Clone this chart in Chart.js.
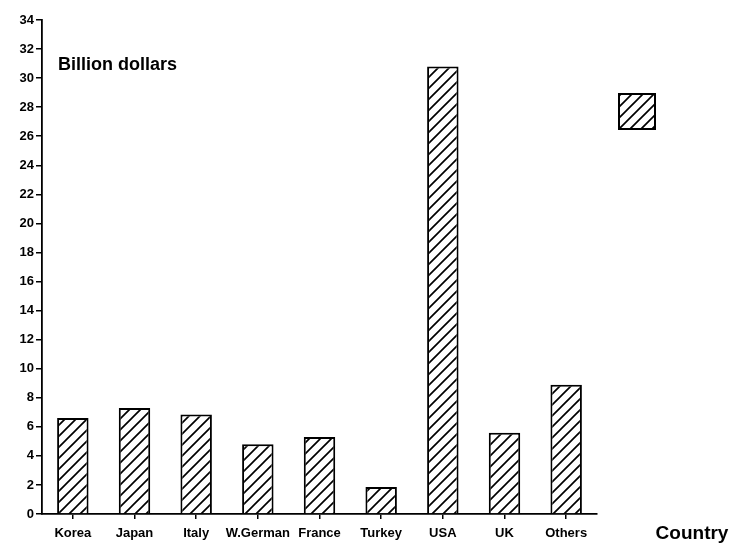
<!DOCTYPE html>
<html>
<head>
<meta charset="utf-8">
<script src="https://cdn.jsdelivr.net/npm/chart.js@4/dist/chart.umd.min.js"></script>
<style>
  html, body { margin: 0; padding: 0; background: #fff; }
  #wrap { width: 736px; height: 544px; }
</style>
</head>
<body>
<div id="wrap"><canvas id="c" width="736" height="544"></canvas></div>
<script>
// Investment by country, billion dollars
const categories = ['Korea', 'Japan', 'Italy', 'W.German', 'France', 'Turkey', 'USA', 'UK', 'Others'];
const values = [6.6, 7.3, 6.85, 4.8, 5.3, 1.85, 30.8, 5.6, 8.9];
const yMin = 0;
const yMax = 34;
const yStep = 2;
const unitLabel = 'Billion dollars';
const axisLabel = 'Country';

const FONT = "'Liberation Sans', Arial, Helvetica, sans-serif";

// Diagonal "/" hatch used for the bars and the legend key
function makeHatch() {
  const s = 11;
  const c = document.createElement('canvas');
  c.width = s; c.height = s;
  const g = c.getContext('2d');
  g.fillStyle = '#fff';
  g.fillRect(0, 0, s, s);
  g.strokeStyle = '#000';
  g.lineWidth = 1.7;
  g.beginPath();
  g.moveTo(0, s); g.lineTo(s, 0);
  g.moveTo(-3, 3); g.lineTo(3, -3);
  g.moveTo(s - 3, s + 3); g.lineTo(s + 3, s - 3);
  g.stroke();
  return g.createPattern(c, 'repeat');
}
const hatch = makeHatch();

const annotations = {
  id: 'annotations',
  afterDraw(chart) {
    const ctx = chart.ctx;
    const area = chart.chartArea;
    ctx.save();
    ctx.fillStyle = '#000';
    ctx.font = 'bold 18px ' + FONT;
    ctx.textAlign = 'left';
    ctx.textBaseline = 'middle';
    ctx.fillText(unitLabel, area.left + 16, 65);

    ctx.font = 'bold 19px ' + FONT;
    ctx.textAlign = 'center';
    ctx.fillText(axisLabel, 692, 534);

    // legend key
    const lx = area.right + 22, ly = 94, lw = 36, lh = 35;
    ctx.fillStyle = chart.data.datasets[0].backgroundColor;
    ctx.fillRect(lx, ly, lw, lh);
    ctx.strokeStyle = '#000';
    ctx.lineWidth = 2;
    ctx.strokeRect(lx, ly, lw, lh);
    ctx.restore();
  }
};

new Chart(document.getElementById('c'), {
  type: 'bar',
  data: {
    labels: categories,
    datasets: [{
      data: values,
      backgroundColor: hatch,
      borderColor: '#000',
      borderWidth: 2,
      borderSkipped: 'bottom',
      barPercentage: 0.51,
      categoryPercentage: 1.0
    }]
  },
  options: {
    responsive: false,
    animation: false,
    devicePixelRatio: 1,
    layout: { padding: { left: 0, right: 139, top: 20, bottom: 0 } },
    plugins: {
      legend: { display: false },
      tooltip: { enabled: false },
      title: { display: false }
    },
    scales: {
      x: {
        afterFit: s => { s.height = 30; },
        border: { color: '#000', width: 1.8 },
        grid: { offset: false, drawOnChartArea: false, drawTicks: true, tickLength: 5, color: '#000', lineWidth: 1.5 },
        ticks: {
          color: '#000',
          font: { family: FONT, size: 13, weight: 'bold' },
          autoSkip: false,
          maxRotation: 0,
          minRotation: 0,
          padding: 7
        }
      },
      y: {
        min: yMin,
        max: yMax,
        afterFit: s => { s.width = 42; },
        border: { color: '#000', width: 1.8 },
        grid: { drawOnChartArea: false, drawTicks: true, tickLength: 6, color: '#000', lineWidth: 1.5 },
        ticks: {
          stepSize: yStep,
          color: '#000',
          font: { family: FONT, size: 13, weight: 'bold' },
          padding: 2
        }
      }
    }
  },
  plugins: [annotations]
});
</script>
</body>
</html>
